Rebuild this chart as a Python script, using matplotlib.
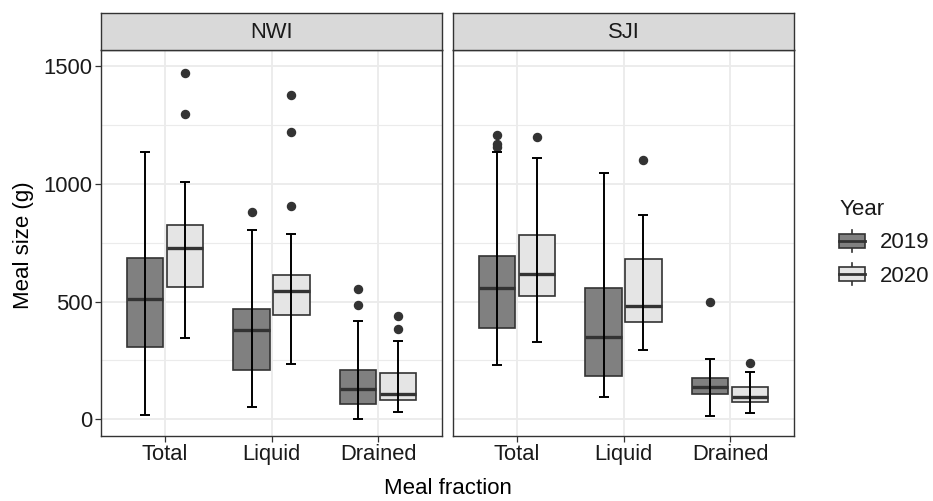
import matplotlib
matplotlib.use("Agg")
import matplotlib.pyplot as plt
from matplotlib.patches import Rectangle
from matplotlib.lines import Line2D
from matplotlib.legend_handler import HandlerBase

plt.rcParams['font.family'] = ['Liberation Sans', 'DejaVu Sans']

# ---------------- data ----------------
sites = ["NWI", "SJI"]
fractions = ["Total", "Liquid", "Drained"]
years = ["2019", "2020"]
year_fills = ["#808080", "#e5e5e5"]

# [whisker low, Q1, median, Q3, whisker high] for Total, Liquid, Drained
nwi_2019_stats = [[18, 307, 511, 684, 1134], [52, 209, 381, 470, 804], [1, 66, 129, 209, 416]]
nwi_2019_fliers = [[], [881], [553, 484]]
nwi_2020_stats = [[344, 561, 729, 825, 1007], [236, 442, 546, 613, 788], [30, 83, 107, 195, 333]]
nwi_2020_fliers = [[1471, 1298], [1378, 1220, 906], [437, 382]]
sji_2019_stats = [[229, 389, 558, 694, 1134], [96, 185, 351, 556, 1048], [15, 109, 139, 177, 258]]
sji_2019_fliers = [[1208, 1168, 1158], [], [497]]
sji_2020_stats = [[327, 524, 617, 783, 1109], [293, 412, 483, 680, 868], [28, 73, 95, 137, 200]]
sji_2020_fliers = [[1199], [1101], [239]]

y_ticks = [0, 500, 1000, 1500]

panel_data = {
    "NWI": [(nwi_2019_stats, nwi_2019_fliers), (nwi_2020_stats, nwi_2020_fliers)],
    "SJI": [(sji_2019_stats, sji_2019_fliers), (sji_2020_stats, sji_2020_fliers)],
}

# ---------------- figure ----------------
W, H = 933, 501
fig = plt.figure(figsize=(W / 100, H / 100), dpi=100)

edge = "#333333"
grid_c = "#ebebeb"
txt_c = "#1a1a1a"
dodge = 0.1875
box_w = 0.34
cap_w = 0.094

panel_lefts = [101, 453]
panel_w = 341
p_top, p_bot = 50, 436
strip_top = 13

axes = []
for i, site in enumerate(sites):
    ax = fig.add_axes([panel_lefts[i] / W, 1 - p_bot / H, panel_w / W, (p_bot - p_top) / H])
    axes.append(ax)
    ax.set_xlim(0.4, 3.6)
    ax.set_ylim(-71, 1569)
    # grid
    for yv in [250, 750, 1250]:
        ax.axhline(yv, color=grid_c, lw=0.8, zorder=0)
    for yv in y_ticks:
        ax.axhline(yv, color=grid_c, lw=1.3, zorder=0)
    for xv in range(1, len(fractions) + 1):
        ax.axvline(xv, color=grid_c, lw=1.3, zorder=0)

    for j, (stats_list, fliers_list) in enumerate(panel_data[site]):
        off = -dodge if j == 0 else dodge
        pos = [k + 1 + off for k in range(len(fractions))]
        bstats = []
        for s, f in zip(stats_list, fliers_list):
            bstats.append(dict(whislo=s[0], q1=s[1], med=s[2], q3=s[3], whishi=s[4], fliers=f))
        ax.bxp(bstats, positions=pos, widths=box_w, patch_artist=True,
               showcaps=False, manage_ticks=False,
               boxprops=dict(facecolor=year_fills[j], edgecolor=edge, linewidth=1.2),
               medianprops=dict(color=edge, linewidth=2.4),
               whiskerprops=dict(linewidth=0),
               flierprops=dict(marker='o', markerfacecolor=edge, markeredgecolor=edge,
                               markersize=5.8, linestyle='none'),
               zorder=2)
        # error-bar style whiskers drawn over the boxes
        lows = [s[0] for s in stats_list]
        highs = [s[4] for s in stats_list]
        ax.vlines(pos, lows, highs, color="black", lw=1.4, zorder=4)
        for p, lo, hi in zip(pos, lows, highs):
            ax.hlines([lo, hi], p - cap_w / 2, p + cap_w / 2, color="black", lw=1.4, zorder=4)

    ax.set_xticks(range(1, len(fractions) + 1))
    ax.set_xticklabels(fractions, fontsize=15.8, color=txt_c)
    ax.tick_params(axis='x', length=4, width=0.9, color=edge, pad=2)
    if i == 0:
        ax.set_yticks(y_ticks)
        ax.set_yticklabels([str(v) for v in y_ticks], fontsize=15.8, color=txt_c)
        ax.tick_params(axis='y', length=4, width=0.9, color=edge, pad=2)
    else:
        ax.set_yticks([])
    for sp in ax.spines.values():
        sp.set_color(edge)
        sp.set_linewidth(1.0)

    # strip
    sax = fig.add_axes([panel_lefts[i] / W, 1 - p_top / H, panel_w / W, (p_top - strip_top) / H])
    sax.set_facecolor("#d9d9d9")
    sax.set_xticks([])
    sax.set_yticks([])
    for sp in sax.spines.values():
        sp.set_color(edge)
        sp.set_linewidth(1.0)
    sax.text(0.5, 0.47, site, ha='center', va='center', fontsize=15.8, color=txt_c,
             transform=sax.transAxes)

fig.text(447.5 / W, 1 - 489 / H, "Meal fraction", ha='center', va='center', fontsize=16)
fig.text(24 / W, 1 - 245 / H, "Meal size (g)", ha='center', va='center', fontsize=16,
         rotation=90)


# ---------------- legend ----------------
class BoxKey:
    def __init__(self, fc):
        self.fc = fc


class BoxHandler(HandlerBase):
    def create_artists(self, legend, orig_handle, xdescent, ydescent, width, height,
                       fontsize, trans):
        x0, y0 = -xdescent, -ydescent
        cx = x0 + width / 2
        bh = height * 0.65
        by = y0 + (height - bh) / 2
        line = Line2D([cx, cx], [y0, y0 + height], color=edge, lw=1.2, transform=trans)
        rect = Rectangle((x0, by), width, bh, facecolor=orig_handle.fc, edgecolor=edge,
                         lw=1.2, transform=trans)
        med = Line2D([x0, x0 + width], [by + bh / 2, by + bh / 2], color=edge, lw=2.0,
                     transform=trans)
        return [line, rect, med]


handles = [BoxKey(c) for c in year_fills]
leg = fig.legend(handles, years, handler_map={BoxKey: BoxHandler()},
                 loc='center left', bbox_to_anchor=(828 / W, 1 - 243 / H),
                 frameon=False, fontsize=16, title="Year", title_fontsize=16,
                 handlelength=1.16, handleheight=1.17, labelspacing=0.43,
                 handletextpad=0.68, borderpad=0, alignment='left')
for t in leg.get_texts():
    t.set_color(txt_c)
leg.get_title().set_color(txt_c)

fig.savefig("out.png", dpi=100)
